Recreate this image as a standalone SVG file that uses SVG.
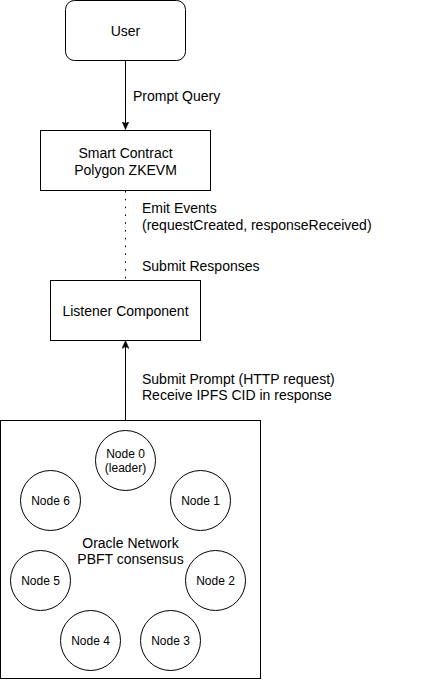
<svg xmlns="http://www.w3.org/2000/svg" width="436" height="681" viewBox="0 0 436 681">
<style>
.box{fill:#fff;stroke:#000;stroke-width:1}
.t{font-family:"Liberation Sans",Arial,sans-serif;font-size:14px;fill:#000}
.n{font-size:12px}
.c{text-anchor:middle;dominant-baseline:central}
.l{dominant-baseline:central}
.edge{stroke:#000;stroke-width:1;fill:none}
</style>
<defs>
<marker id="ah" viewBox="0 0 8 8" refX="8" refY="4" markerWidth="8" markerHeight="8" markerUnits="userSpaceOnUse" orient="auto-start-reverse">
<path d="M0,0.5 L8,4 L0,7.5 L2,4 z" fill="#000" stroke="#000" stroke-width="0.5"/>
</marker>
</defs>
<rect width="436" height="681" fill="#fff"/>
<g id="connectors">
<line class="edge" x1="125.5" y1="60.5" x2="125.5" y2="129.5" marker-end="url(#ah)"/>
<line class="edge" x1="125.5" y1="191" x2="125.5" y2="280.5" stroke-dasharray="1.6 6.2"/>
<line class="edge" x1="125.5" y1="340.5" x2="125.5" y2="429.5" marker-start="url(#ah)" marker-end="url(#ah)"/>
</g>
<g id="labels">
<text class="t l" x="133" y="95.5">Prompt Query</text>
<text class="t l" x="142" y="208">Emit Events</text>
<text class="t l" x="142" y="224.5">(requestCreated, responseReceived)</text>
<text class="t l" x="142" y="266">Submit Responses</text>
<text class="t l" x="142" y="378.5">Submit Prompt (HTTP request)</text>
<text class="t l" x="142" y="395">Receive IPFS CID in response</text>
</g>
<g id="user">
<rect class="box" x="65.5" y="0.5" width="120" height="60" rx="9"/>
<text class="t c" x="125.5" y="30.5">User</text>
</g>
<g id="smart-contract">
<rect class="box" x="40.5" y="130.5" width="170" height="60"/>
<text class="t c" x="125.5" y="152.5">Smart Contract</text>
<text class="t c" x="125.5" y="169.5">Polygon ZKEVM</text>
</g>
<g id="listener">
<rect class="box" x="50.5" y="280.5" width="150" height="60"/>
<text class="t c" x="125.5" y="310.5">Listener Component</text>
</g>
<g id="oracle-network">
<rect class="box" x="0.5" y="420.5" width="260" height="258"/>
<text class="t c" x="130.5" y="543">Oracle Network</text>
<text class="t c" x="130.5" y="558.5">PBFT consensus</text>
</g>
<g id="node0">
<circle class="box" cx="125.5" cy="460.5" r="30"/>
<text class="t n c" x="125.5" y="453.5">Node 0</text>
<text class="t n c" x="125.5" y="467.5">(leader)</text>
</g>
<g id="node1">
<circle class="box" cx="200.5" cy="500.5" r="30"/>
<text class="t n c" x="200.5" y="500.5">Node 1</text>
</g>
<g id="node2">
<circle class="box" cx="215.5" cy="580.5" r="30"/>
<text class="t n c" x="215.5" y="580.5">Node 2</text>
</g>
<g id="node3">
<circle class="box" cx="170.5" cy="640.5" r="30"/>
<text class="t n c" x="170.5" y="640.5">Node 3</text>
</g>
<g id="node4">
<circle class="box" cx="90.5" cy="640.5" r="30"/>
<text class="t n c" x="90.5" y="640.5">Node 4</text>
</g>
<g id="node5">
<circle class="box" cx="40.5" cy="580.5" r="30"/>
<text class="t n c" x="40.5" y="580.5">Node 5</text>
</g>
<g id="node6">
<circle class="box" cx="50.5" cy="500.5" r="30"/>
<text class="t n c" x="50.5" y="500.5">Node 6</text>
</g>
</svg>
